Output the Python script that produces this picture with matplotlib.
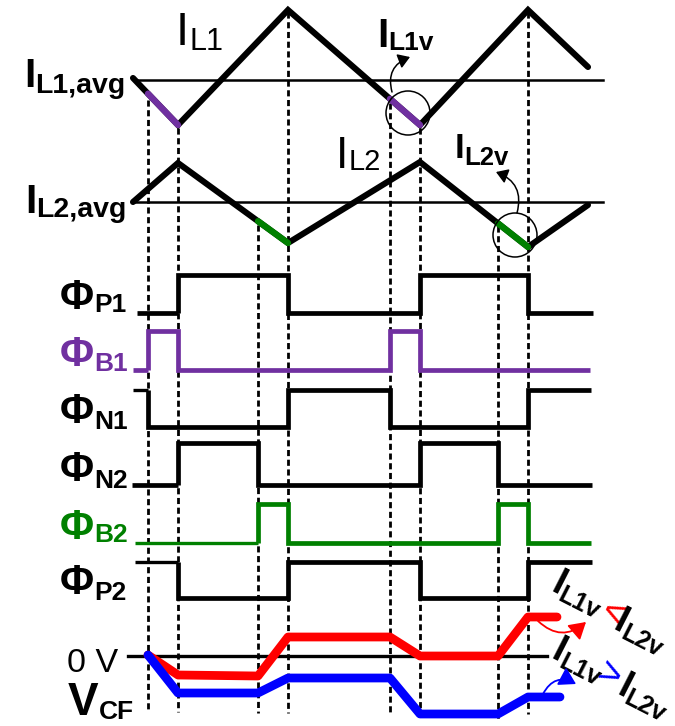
import matplotlib.pyplot as plt
import numpy as np
from matplotlib.patches import Circle, FancyArrowPatch

plt.rcParams['font.family'] = ['Liberation Sans', 'DejaVu Sans']

PURPLE = '#7030A0'
GREEN = '#008000'
RED = '#FF0000'
BLUE = '#0000FF'

# switching instants shared by every trace
edges = [148, 178, 258, 288, 390, 420, 498, 528]

# inductor currents: corner times and deviation from the average
il1_t = [133, 178, 288, 420, 528, 588]
il1_v = [2, -45, 70, -45, 70, 13]
il2_t = [133, 178, 288, 420, 528, 588]
il2_v = [0, 39, -41, 40, -45, -3]

# switch phases: starting level and the edges they toggle on
phase_names = ['P1', 'B1', 'N1', 'N2', 'B2', 'P2']
phase_colors = ['black', PURPLE, 'black', 'black', GREEN, 'black']
phase_init = [0, 0, 1, 0, 0, 1]
phase_toggles = [[1, 3, 5, 7], [0, 1, 4, 5], [0, 3, 4, 7],
                 [1, 2, 5, 6], [2, 3, 6, 7], [1, 3, 5, 7]]
phase_start = [137, 133, 133, 132, 135, 135]
phase_end = [593, 590, 591, 592, 591, 592]

# flying capacitor voltage for the two cases
vcf_t = [148, 178, 258, 288, 390, 420, 498, 528]
vcf_red = [1, -19, -20, 19, 19, 0, 0, 39]
vcf_blue = [1, -37, -37, -22, -22, -58, -58, -41]
vcf_red_end = 557
vcf_blue_end = 560

fig = plt.figure(figsize=(6.75, 7.26), dpi=100)
ax = fig.add_axes([0, 0, 1, 1])
ax.set_xlim(0, 675)
ax.set_ylim(726, 0)
ax.axis('off')
renderer = fig.canvas.get_renderer()


def sublabel(x, y, main, sub, size, subsize, drop, color='black',
             weight='bold', angle=0, gap=0):
    probe = ax.text(0, 0, main, fontsize=size, fontweight=weight)
    w = probe.get_window_extent(renderer).width + gap
    probe.remove()
    ax.text(x, y, main, fontsize=size, color=color, fontweight=weight,
            ha='left', va='baseline', rotation=angle, rotation_mode='anchor')
    th = np.deg2rad(angle)
    sx = x + w * np.cos(th) + drop * np.sin(th)
    sy = y - w * np.sin(th) + drop * np.cos(th)
    ax.text(sx, sy, sub, fontsize=subsize, color=color, fontweight=weight,
            ha='left', va='baseline', rotation=angle, rotation_mode='anchor')


# dashed guides at each edge
dash_top = [100, 128, 225, 12, 103, 128, 226, 12]
dash_bot = [710, 712, 713, 713, 712, 720, 720, 714]
for x, y0, y1 in zip(edges, dash_top, dash_bot):
    ax.plot([x, x], [y0, y1], color='black', lw=2.0,
            linestyle=(0, (2.2, 1.3)), zorder=1)

# inductor currents
il1_y0, il2_y0 = 80, 202
ax.plot([138, 603], [il1_y0, il1_y0], color='black', lw=1.8, zorder=2)
ax.plot([133, 603], [il2_y0, il2_y0], color='black', lw=1.8, zorder=2)
ax.plot(il1_t, il1_y0 - np.array(il1_v), color='black', lw=4.4,
        solid_capstyle='round', solid_joinstyle='miter', zorder=3)
ax.plot(il2_t, il2_y0 - np.array(il2_v), color='black', lw=4.4,
        solid_capstyle='round', solid_joinstyle='miter', zorder=3)
for a, b in [(0, 1), (4, 5)]:
    xs = [edges[a], edges[b]]
    ax.plot(xs, il1_y0 - np.interp(xs, il1_t, il1_v), color=PURPLE, lw=4.6,
            solid_capstyle='round', zorder=4)
for a, b in [(2, 3), (6, 7)]:
    xs = [edges[a], edges[b]]
    ax.plot(xs, il2_y0 - np.interp(xs, il2_t, il2_v), color=GREEN, lw=4.6,
            solid_capstyle='round', zorder=4)

# valley markers with arrows
ax.add_patch(Circle((408, 113), 22, fill=False, lw=1.1, color='black', zorder=5))
ax.add_patch(Circle((515, 235), 22, fill=False, lw=1.1, color='black', zorder=5))
ax.add_patch(FancyArrowPatch((392, 92), (410, 57), connectionstyle='arc3,rad=-0.45',
                             arrowstyle='-|>,head_length=7,head_width=4.5',
                             lw=1.1, color='black', shrinkA=0, shrinkB=0, zorder=5))
ax.add_patch(FancyArrowPatch((517, 213), (496, 172), connectionstyle='arc3,rad=0.45',
                             arrowstyle='-|>,head_length=7,head_width=4.5',
                             lw=1.1, color='black', shrinkA=0, shrinkB=0, zorder=5))

sublabel(176, 45, 'I', 'L1', 34, 22, 5, weight='normal')
sublabel(336, 168, 'I', 'L2', 32, 21, 2, weight='normal')
sublabel(24, 87, 'I', 'L1,avg', 29, 20.5, 6)
sublabel(25, 213, 'I', 'L2,avg', 29, 20.5, 4)
sublabel(377, 47, 'I', 'L1v', 29, 19, 3)
sublabel(455, 158, 'I', 'L2v', 25, 18.5, 7)

# switch phase waveforms
phase_low = [313, 370, 427, 485, 543, 598]
phase_high = [38, 39, 37, 42, 39, 36]
phase_lead_lw = [3.4, 3.4, 2.4, 3.4, 2.4, 2.4]
phase_sub_drop = [3, 5, 6, 7, 3, 6]
for i in range(len(phase_names)):
    lvl = phase_init[i]
    xs, ls = [phase_start[i]], [lvl]
    for k in phase_toggles[i]:
        xs += [edges[k], edges[k]]
        ls += [lvl, 1 - lvl]
        lvl = 1 - lvl
    xs.append(phase_end[i])
    ls.append(lvl)
    ys = phase_low[i] - np.array(ls) * phase_high[i]
    ax.plot(xs[:2], ys[:2], color=phase_colors[i], lw=phase_lead_lw[i],
            solid_capstyle='butt', zorder=3)
    ax.plot(xs[1:], ys[1:], color=phase_colors[i], lw=3.4,
            solid_capstyle='butt', solid_joinstyle='miter', zorder=3)
    sublabel(60, phase_low[i] - 4, '\u03a6', phase_names[i], 30, 19,
             phase_sub_drop[i], color=phase_colors[i])

# flying capacitor voltage
vcf_y0 = 656
ax.plot([128, 547], [vcf_y0, vcf_y0], color='black', lw=2.4, zorder=2)
ax.plot(vcf_t + [vcf_red_end], vcf_y0 - np.array(vcf_red + vcf_red[-1:]),
        color=RED, lw=6.3, solid_capstyle='round', solid_joinstyle='round', zorder=4)
ax.plot(vcf_t + [vcf_blue_end], vcf_y0 - np.array(vcf_blue + vcf_blue[-1:]),
        color=BLUE, lw=6.3, solid_capstyle='round', solid_joinstyle='round', zorder=4)
ax.add_patch(FancyArrowPatch((538, 621), (586, 622), connectionstyle='arc3,rad=0.45',
                             arrowstyle='-|>,head_length=10,head_width=6',
                             lw=1.3, color=RED, shrinkA=0, shrinkB=0, zorder=5))
ax.add_patch(FancyArrowPatch((543, 694), (576, 684), connectionstyle='arc3,rad=-0.5',
                             arrowstyle='-|>,head_length=10,head_width=6',
                             lw=1.3, color=BLUE, shrinkA=0, shrinkB=0, zorder=5))

ax.text(67, 672, '0 V', fontsize=24.5, ha='left', va='baseline')
sublabel(68, 715, 'V', 'CF', 33, 19, 4)

# ordering of the two valley currents
ang = -27
sublabel(549, 591, 'I', 'L1v', 27, 18, 5, angle=ang)
ax.text(598, 619, '<', color=RED, fontsize=28, ha='left', va='baseline',
        rotation=ang, rotation_mode='anchor')
sublabel(612, 629, 'I', 'L2v', 27, 18, 5, angle=ang)
sublabel(550, 658, 'I', 'L1v', 27, 18, 5, angle=ang)
ax.text(594, 680, '>', color=BLUE, fontsize=28, ha='left', va='baseline',
        rotation=ang, rotation_mode='anchor')
sublabel(615, 694, 'I', 'L2v', 27, 18, 5, angle=ang)

fig.savefig('out.png', dpi=100)
